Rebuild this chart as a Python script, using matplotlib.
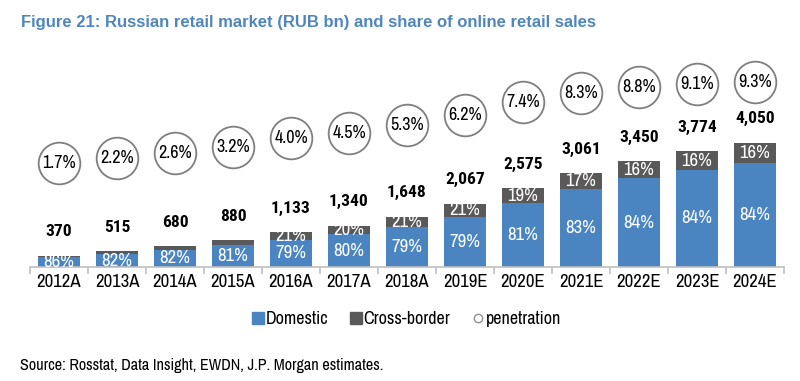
import matplotlib
matplotlib.use("Agg")
import matplotlib.pyplot as plt
from matplotlib.lines import Line2D
import numpy as np

# chart data
years = ['2012A', '2013A', '2014A', '2015A', '2016A', '2017A', '2018A',
         '2019E', '2020E', '2021E', '2022E', '2023E', '2024E']
totals = [370, 515, 680, 880, 1133, 1340, 1648, 2067, 2575, 3061, 3450, 3774, 4050]
domestic_share = [86, 82, 82, 81, 79, 80, 79, 79, 81, 83, 84, 84, 84]
cross_share = [14, 18, 18, 19, 21, 20, 21, 21, 19, 17, 16, 16, 16]
penetration = [1.7, 2.2, 2.6, 3.2, 4.0, 4.5, 5.3, 6.2, 7.4, 8.3, 8.8, 9.1, 9.3]
cross_label_from = 4  # cross-border % shown from 2016A onwards

BLUE = '#4a85c1'
GREY = '#595959'
TITLE_BLUE = '#4f86be'

plt.rcParams['font.family'] = ['Archivo Narrow', 'Liberation Sans', 'DejaVu Sans']

fig = plt.figure(figsize=(8, 3.81), dpi=100)
ax = fig.add_axes([0.0375, 0.2992, 0.9425, 0.5696])

x = np.arange(len(years))
totals = np.array(totals, dtype=float)
dom = totals * np.array(domestic_share) / 100.0
cb = totals * np.array(cross_share) / 100.0

w = 0.71
ax.bar(x, dom, w, color=BLUE, zorder=2)
ax.bar(x, cb, w, bottom=dom, color=GREY, zorder=2)

for i in range(len(years)):
    ax.text(x[i], dom[i] / 2, f'{domestic_share[i]}%', ha='center', va='center',
            color='white', fontsize=13.5, zorder=3, clip_on=True)
    if i >= cross_label_from:
        ax.text(x[i], dom[i] + cb[i] / 2, f'{cross_share[i]}%', ha='center', va='center',
                color='white', fontsize=13.5, zorder=3, clip_on=True)
    ax.annotate(f'{int(totals[i]):,}', (x[i], totals[i]), xytext=(0, 24),
                textcoords='offset pixels', ha='center', va='center',
                fontsize=12.5, fontweight='bold', color='black',
                family=['Roboto Condensed', 'Liberation Sans'])

ax.set_xlim(-0.5, len(years) - 0.5)
ax.set_ylim(0, 7087)
ax.set_yticks([])
for s in ['top', 'right', 'left']:
    ax.spines[s].set_visible(False)
ax.spines['bottom'].set_color('#c0c0c0')
ax.spines['bottom'].set_linewidth(1.2)
ax.set_xticks(x)
ax.set_xticklabels(years, fontsize=13.5)
ax.tick_params(axis='x', which='major', length=0, pad=5)
ax.set_xticks(np.arange(-0.5, len(years), 1), minor=True)
ax.tick_params(axis='x', which='minor', length=5, color='#c0c0c0', width=1.2)

# penetration circles on a second axis
ax2 = ax.twinx()
ax2.set_ylim(-8.06, 12.30)
ax2.axis('off')
ax2.plot(x, penetration, 'o', ls='none', ms=30, mfc='white', mec='#7f7f7f', mew=1.3, zorder=3)
for i, p in enumerate(penetration):
    ax2.text(x[i], p, f'{p:.1f}%', ha='center', va='center', fontsize=13, zorder=4)

handles = [
    Line2D([], [], marker='s', ls='none', ms=8, mfc=BLUE, mec=BLUE),
    Line2D([], [], marker='s', ls='none', ms=8, mfc=GREY, mec=GREY),
    Line2D([], [], marker='o', ls='none', ms=6, mfc='white', mec='#909090', mew=1),
]
fig.legend(handles, ['Domestic', 'Cross-border', 'penetration'], loc='center',
           bbox_to_anchor=(0.508, 0.163), ncol=3, frameon=False, fontsize=13,
           handlelength=0.7, handletextpad=0.05, columnspacing=1.2)

fig.text(0.026, 0.942, 'Figure 21: Russian retail market (RUB bn) and share of online retail sales',
         fontsize=12, fontweight='bold', color=TITLE_BLUE, va='center',
         family=['Liberation Sans', 'DejaVu Sans'])
fig.text(0.025, 0.04, 'Source: Rosstat, Data Insight, EWDN, J.P. Morgan estimates.',
         fontsize=11.6, va='center')

fig.savefig('out.png', dpi=100, facecolor='white')
